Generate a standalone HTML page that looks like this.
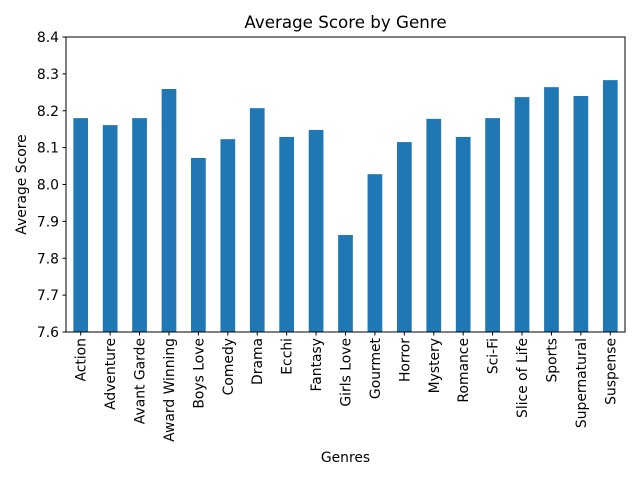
<!DOCTYPE html>
<html><head><meta charset="utf-8"><style>
body{margin:0;background:#fff;}
svg{display:block;font-family:"DejaVu Sans","Liberation Sans",sans-serif;}
</style></head><body>
<svg id="chart" width="640" height="480">
<rect width="640" height="480" fill="#fff"/>
<text x="345.5" y="28" font-size="16.7" text-anchor="middle">Average Score by Genre</text>
<text x="345.5" y="462" font-size="13.9" text-anchor="middle">Genres</text>
<text transform="translate(26,184.5) rotate(-90)" font-size="13.9" text-anchor="middle">Average Score</text>
<g id="bars"></g><g id="ticks"></g>
<rect x="66" y="37" width="559" height="295" fill="none" stroke="#000" stroke-width="1"/>
</svg>
<script>
const categories=["Action","Adventure","Avant Garde","Award Winning","Boys Love","Comedy","Drama","Ecchi","Fantasy","Girls Love","Gourmet","Horror","Mystery","Romance","Sci-Fi","Slice of Life","Sports","Supernatural","Suspense"];
const scores=[8.180,8.161,8.180,8.259,8.072,8.123,8.207,8.129,8.148,7.863,8.028,8.115,8.178,8.129,8.180,8.237,8.264,8.240,8.283];
const yTicks=[7.6,7.7,7.8,7.9,8.0,8.1,8.2,8.3,8.4];
const NS="http://www.w3.org/2000/svg";
const L=66,R=625,T=37,B=332,yMin=7.6,yMax=8.4;
const y=v=>B-(v-yMin)/(yMax-yMin)*(B-T);
const step=(R-L)/categories.length;
const x=i=>L+step*(i+0.5);
const bars=document.getElementById('bars'),ticks=document.getElementById('ticks');
function mk(t,a,p){const e=document.createElementNS(NS,t);for(const k in a)e.setAttribute(k,a[k]);p.appendChild(e);return e;}
scores.forEach((v,i)=>{
 const r=mk('rect',{x:x(i)-step*0.25,y:y(v),width:step*0.5,height:B-y(v),fill:'#1f77b4'},bars);
 
 
 const tk=mk('line',{x1:x(i),x2:x(i),y1:B,y2:B+3.5,stroke:'#000'},ticks);
 
 
 const t=mk('text',{transform:`translate(${x(i)+5},${B+6}) rotate(-90)`,'font-size':13.9,'text-anchor':'end'},ticks);
 t.textContent=categories[i];
 
 
});
yTicks.forEach(v=>{
 const tk=mk('line',{x1:L-3.5,x2:L,y1:y(v),y2:y(v),stroke:'#000'},ticks);
 
 
 const t=mk('text',{x:L-7,y:y(v)+5,'font-size':13.9,'text-anchor':'end'},ticks);
 t.textContent=v.toFixed(1);
 
 
});
</script>
</body></html>
